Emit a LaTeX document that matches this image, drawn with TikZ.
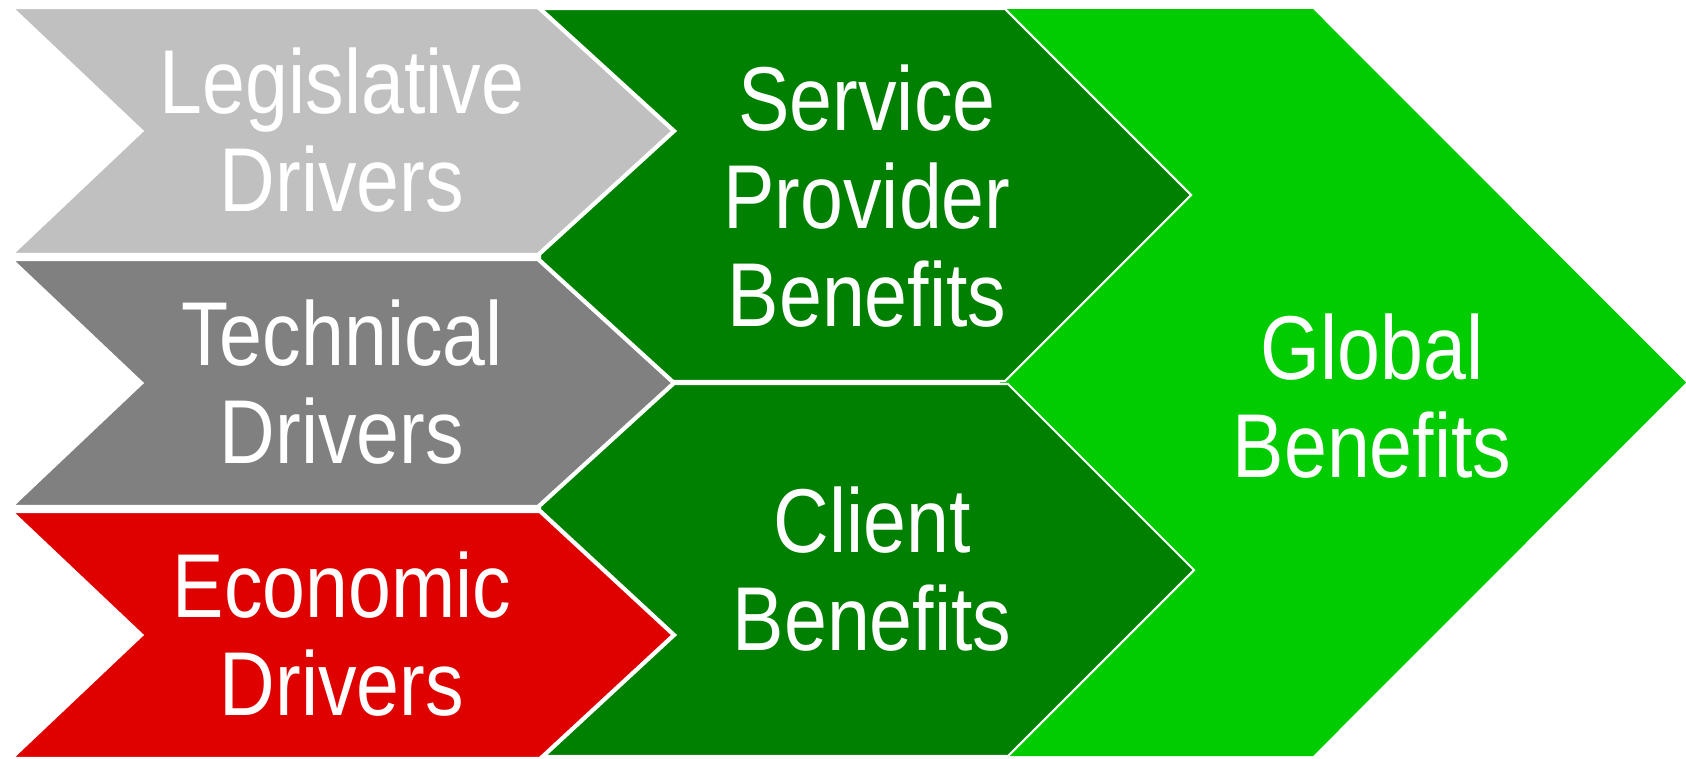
\documentclass[tikz,border=0pt]{standalone}
\usepackage{fontspec}
\newfontfamily\chevfont{Liberation Sans}[FakeStretch=0.85]
\usetikzlibrary{positioning}
\definecolor{legisgray}{HTML}{C0C0C0}
\definecolor{techgray}{HTML}{808080}
\definecolor{econred}{HTML}{DF0000}
\definecolor{benefitgreen}{HTML}{008000}
\definecolor{globalgreen}{HTML}{00CC00}
\tikzset{
  driver/.style={
    draw=white,
    line width=1.2pt,
    line join=miter
  },
  benefit/.style={
    draw=white,
    line width=0.6pt,
    line join=miter
  },
  chevtext/.style={
    text=white,
    align=center,
    inner sep=0pt,
    font=\chevfont\fontsize{25.8}{28}\selectfont
  }
}
\begin{document}
\begin{tikzpicture}
    \useasboundingbox (0,0) rectangle (16.86,7.58);
    % global benefits
    \fill[globalgreen] (10.0,7.49) -- (13.13,7.49) -- (16.86,3.755) -- (13.13,0.02) -- (10.0,0.02) -- cycle;
    \node (global) [chevtext] at (13.72,3.62) {Global\\Benefits};
    % benefits
    \path[benefit, fill=benefitgreen] (5.40,7.49) -- (10.05,7.49) -- (11.91,5.63) -- (10.05,3.77) -- (5.40,3.77) -- cycle;
    \path[benefit, fill=benefitgreen] (5.40,3.74) -- (10.08,3.74) -- (11.94,1.88) -- (10.08,0.02) -- (5.40,0.02) -- cycle;
    \node (provider) [chevtext] at (8.67,5.62) {Service\\Provider\\Benefits};
    \node (client) [chevtext] at (8.72,1.89) {Client\\Benefits};
    % drivers
    \path[driver, fill=legisgray] (0.10,7.51) -- (5.38,7.51) -- (6.74,6.27) -- (5.38,5.03) -- (0.10,5.03) -- (1.41,6.27) -- cycle;
    \path[driver, fill=techgray] (0.10,4.99) -- (5.38,4.99) -- (6.74,3.75) -- (5.38,2.51) -- (0.10,2.51) -- (1.41,3.75) -- cycle;
    \path[driver, fill=econred] (0.10,2.47) -- (5.40,2.47) -- (6.74,1.23) -- (5.40,-0.01) -- (0.10,-0.01) -- (1.41,1.23) -- cycle;
    \node (legis) [chevtext] at (3.42,6.28) {Legislative\\Drivers};
    \node (tech) [chevtext] at (3.42,3.76) {Technical\\Drivers};
    \node (econ) [chevtext] at (3.42,1.24) {Economic\\Drivers};
\end{tikzpicture}
\end{document}
